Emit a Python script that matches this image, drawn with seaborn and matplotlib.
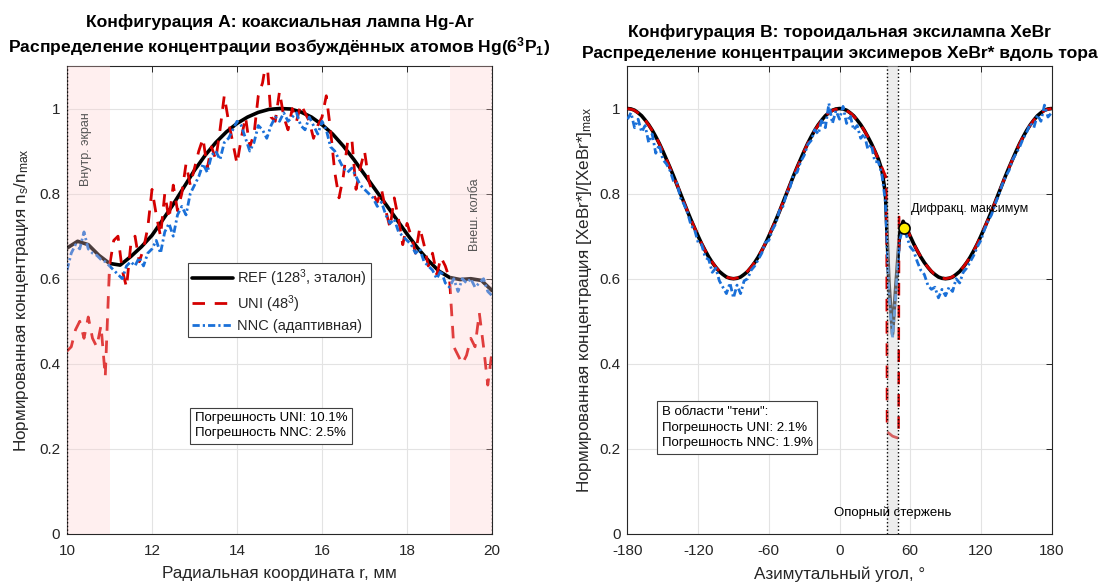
import numpy as np
import pandas as pd
import matplotlib
matplotlib.use("Agg")
import matplotlib.pyplot as plt
from matplotlib.ticker import FuncFormatter
import seaborn as sns

# ---------------- Configuration A: coaxial Hg-Ar lamp ----------------
r_ref = np.arange(10.0, 20.001, 0.25)
ref_a = [0.672, 0.688, 0.680, 0.655, 0.636, 0.632, 0.652, 0.675, 0.702, 0.738,
         0.775, 0.815, 0.855, 0.890, 0.920, 0.945, 0.965, 0.980, 0.991, 0.998,
         1.000, 0.999, 0.992, 0.980, 0.962, 0.940, 0.912, 0.880, 0.845, 0.810,
         0.775, 0.740, 0.705, 0.672, 0.643, 0.618, 0.603, 0.598, 0.600, 0.596,
         0.572]

r_grid = np.round(np.arange(10.0, 20.001, 0.1), 2)
uni_a = [0.43, 0.44, 0.48, 0.50, 0.46, 0.51, 0.46, 0.44, 0.49, 0.37,
         0.63, 0.69, 0.70, 0.62, 0.58, 0.68, 0.70, 0.64, 0.67, 0.72,
         0.81, 0.75, 0.70, 0.80, 0.74, 0.82, 0.76, 0.80, 0.87, 0.82,
         0.86, 0.90, 0.93, 0.86, 0.91, 0.88, 0.95, 1.03, 0.97, 0.92,
         0.87, 0.93, 0.98, 0.91, 0.94, 1.03, 1.06, 1.12, 0.98, 0.97,
         1.04, 0.98, 0.95, 1.00, 0.97, 1.01, 0.99, 0.97, 0.93, 0.96,
         0.98, 1.03, 0.95, 0.85, 0.79, 0.84, 0.92, 0.93, 0.81, 0.86,
         0.90, 0.83, 0.80, 0.78, 0.81, 0.76, 0.72, 0.79, 0.74, 0.68,
         0.73, 0.70, 0.66, 0.72, 0.68, 0.63, 0.66, 0.61, 0.65, 0.63,
         0.60, 0.44, 0.42, 0.40, 0.42, 0.46, 0.44, 0.52, 0.44, 0.35,
         0.43]
nnc_a = [0.62, 0.66, 0.68, 0.67, 0.71, 0.67, 0.66, 0.655, 0.645, 0.64,
         0.63, 0.62, 0.61, 0.60, 0.63, 0.64, 0.63, 0.65, 0.63, 0.66,
         0.67, 0.69, 0.66, 0.71, 0.73, 0.70, 0.75, 0.77, 0.75, 0.80,
         0.82, 0.84, 0.87, 0.85, 0.89, 0.90, 0.88, 0.92, 0.93, 0.95,
         0.97, 0.96, 0.93, 0.90, 0.92, 0.96, 0.95, 0.93, 0.96, 0.98,
         0.97, 0.99, 0.97, 0.98, 0.99, 0.96, 0.95, 0.98, 0.96, 0.94,
         0.97, 0.95, 0.91, 0.90, 0.88, 0.86, 0.85, 0.86, 0.84, 0.82,
         0.81, 0.80, 0.79, 0.77, 0.78, 0.75, 0.73, 0.74, 0.71, 0.70,
         0.69, 0.68, 0.66, 0.67, 0.64, 0.63, 0.62, 0.60, 0.62, 0.59,
         0.58, 0.60, 0.57, 0.60, 0.59, 0.60, 0.58, 0.59, 0.60, 0.57,
         0.56]

zones_a = [(10.0, 11.0), (19.0, 20.0)]
zone_labels_a = ["Внутр. экран", "Внеш. колба"]
zone_label_pos_a = [(10.45, 0.905), (19.6, 0.75)]
err_text_a = "Погрешность UNI: 10.1%\nПогрешность NNC: 2.5%"

# ---------------- Configuration B: toroidal XeBr excilamp ----------------
theta = np.arange(-180, 181, 3)
ref_b = [1.000, .999, .996, .990, .983, .973, .962, .949, .934, .918, .900,
         .881, .862, .842, .821, .800, .779, .758, .738, .719, .700, .682,
         .666, .651, .638, .627, .617, .610, .604, .601, .600,
         .601, .604, .610, .617, .627, .638, .651, .666, .682, .700, .719,
         .738, .758, .779, .800, .821, .842, .862, .881, .900, .918, .934,
         .949, .962, .973, .983, .990, .996, .999, 1.000,
         .999, .996, .990, .983, .973, .962, .949, .934, .918, .900, .881,
         .855, .800, .590, .470, .590, .705, .735, .719, .700, .682, .666,
         .651, .638, .627, .617, .610, .604, .601, .600,
         .601, .604, .610, .617, .627, .638, .651, .666, .682, .700, .719,
         .738, .758, .779, .800, .821, .842, .862, .881, .900, .918, .934,
         .949, .962, .973, .983, .990, .996, .999, 1.000]
nnc_b = [0.975, 0.99, 0.955, 0.975, 0.945, 0.96, 0.92, 0.94, 0.895, 0.915, 0.88,
         0.87, 0.855, 0.83, 0.825, 0.79, 0.775, 0.755, 0.725, 0.715, 0.685, 0.68,
         0.65, 0.645, 0.615, 0.625, 0.595, 0.58, 0.565, 0.59, 0.555,
         0.585, 0.565, 0.595, 0.60, 0.62, 0.63, 0.645, 0.66, 0.685, 0.69, 0.715,
         0.73, 0.76, 0.77, 0.80, 0.815, 0.845, 0.85, 0.875, 0.89, 0.915, 0.925,
         0.95, 0.94, 0.975, 0.955, 1.012, 0.965, 0.995, 0.975,
         1.005, 0.965, 0.985, 0.95, 0.96, 0.93, 0.94, 0.905, 0.915, 0.875, 0.875,
         0.845, 0.78, 0.56, 0.46, 0.57, 0.69, 0.72, 0.70, 0.675, 0.665, 0.64,
         0.62, 0.61, 0.585, 0.575, 0.58, 0.555, 0.575, 0.56,
         0.58, 0.57, 0.60, 0.59, 0.615, 0.625, 0.64, 0.655, 0.675, 0.69, 0.715,
         0.735, 0.75, 0.775, 0.795, 0.82, 0.84, 0.855, 0.88, 0.895, 0.91, 0.93,
         0.945, 0.965, 0.955, 0.985, 0.97, 1.008, 0.98, 0.99]

theta_uni = ([float(t) for t in range(-180, 36, 5)] + [40.0, 40.5, 45.0, 50.0, 50.5]
             + [float(t) for t in range(55, 181, 5)])
uni_b = [1.000, .997, .988, .973, .953, .929, .900, .868, .835, .800, .765,
         .732, .700, .671, .647, .627, .612, .603, .600,
         .603, .612, .627, .647, .671, .700, .732, .765, .800, .835, .868,
         .900, .929, .953, .973, .988, .997, 1.000,
         .997, .988, .973, .953, .929, .900, .868,
         .835, .240, .230, .225, .745,
         .732, .700, .671, .647, .627, .612, .603, .600,
         .603, .612, .627, .647, .671, .700, .732, .765, .800, .835, .868,
         .900, .929, .953, .973, .988, .997, 1.000]

shadow_b = (40.0, 50.0)
peak_b = (55.0, 0.72)
err_text_b = "В области \"тени\":\nПогрешность UNI: 2.1%\nПогрешность NNC: 1.9%"

# ---------------- style ----------------
sns.set_theme(style="whitegrid")
plt.rcParams["font.family"] = ["Liberation Sans", "DejaVu Sans"]
plt.rcParams["mathtext.fontset"] = "custom"
plt.rcParams["mathtext.rm"] = "Liberation Sans"
plt.rcParams["mathtext.it"] = "Liberation Sans:italic"
plt.rcParams["mathtext.bf"] = "Liberation Sans:bold"
plt.rcParams["mathtext.default"] = "regular"
plt.rcParams["axes.unicode_minus"] = False

C_REF = "black"
C_UNI = "#d40000"
C_NNC = "#1a70d8"
LS_UNI = (0, (4.5, 3.5))
LS_NNC = (0, (2.6, 1.1, 0.8, 1.1))
TXT = "#262626"

fig = plt.figure(figsize=(11.02, 5.85), dpi=100)
ax1 = fig.add_axes([0.0608, 0.0872, 0.3857, 0.80])
ax2 = fig.add_axes([0.5694, 0.0872, 0.3848, 0.80])


def draw_series(ax, x, y, color, lw, ls, label, z):
    sns.lineplot(x=list(x), y=list(y), ax=ax, color=color, lw=lw,
                 label=label, sort=False, estimator=None, zorder=z)
    line = ax.lines[-1]
    line.set_linestyle(ls)
    return line


def style_axes(ax):
    ax.set_facecolor("white")
    ax.grid(True, color="#e3e3e3", lw=0.8)
    ax.tick_params(direction="in", top=True, right=True, length=4,
                   width=0.7, color=TXT, labelcolor=TXT, labelsize=11)
    ax.tick_params(axis="x", pad=7)
    ax.tick_params(axis="y", pad=5)
    for s in ax.spines.values():
        s.set_color(TXT)
        s.set_linewidth(0.8)
    ax.yaxis.set_major_formatter(FuncFormatter(lambda v, p: f"{v:g}"))
    ax.set_ylim(0, 1.1)
    ax.set_yticks([0, 0.2, 0.4, 0.6, 0.8, 1.0])


# ---------- panel A ----------
draw_series(ax1, r_ref, ref_a, C_REF, 2.6, "-", "REF (128$^3$, эталон)", 3)
draw_series(ax1, r_grid, uni_a, C_UNI, 2.0, LS_UNI, "UNI (48$^3$)", 4)
draw_series(ax1, r_grid, nnc_a, C_NNC, 2.0, LS_NNC, "NNC (адаптивная)", 5)
for (a, b), lab, (tx, ty) in zip(zones_a, zone_labels_a, zone_label_pos_a):
    ax1.axvspan(a, b, color="#ffcccc", alpha=0.3, lw=0, zorder=6)
    ax1.text(tx, ty, lab, rotation=90, ha="center", va="center",
             fontsize=9, color="#555555", zorder=7)
for xv in (10.0, 20.0):
    ax1.axvline(xv, color="black", ls=":", lw=1.0, zorder=8)
style_axes(ax1)
ax1.set_xlim(10, 20)
ax1.set_xticks(np.arange(10, 21, 2))
ax1.set_xlabel("Радиальная координата r, мм", fontsize=12.3, color=TXT, labelpad=6)
ax1.set_ylabel("Нормированная концентрация n$_\\mathrm{s}$/n$_\\mathrm{max}$",
               fontsize=12.3, color=TXT, labelpad=6)
ax1.set_title("Конфигурация А: коаксиальная лампа Hg-Ar\n"
              "Распределение концентрации возбуждённых атомов Hg(6$^\\mathbf{3}$P$_\\mathbf{1}$)",
              fontsize=12.6, fontweight="bold", color="black", pad=10,
              linespacing=1.25)
leg = ax1.legend(loc="center", fontsize=10.5, frameon=True, fancybox=False,
                 framealpha=1, edgecolor="#404040", handlelength=2.8,
                 borderpad=0.3, labelspacing=0.3, handletextpad=0.3,
                 borderaxespad=0.3)
leg.get_frame().set_linewidth(0.8)
ax1.text(14.8, 0.254, err_text_a, ha="center", va="center", multialignment="left",
         fontsize=9.5, color="black", linespacing=1.35, zorder=9,
         bbox=dict(boxstyle="square,pad=0.35", fc="white", ec="#404040", lw=0.8))

# ---------- panel B ----------
draw_series(ax2, theta, ref_b, C_REF, 2.6, "-", "REF", 3)
draw_series(ax2, theta_uni, uni_b, C_UNI, 2.0, LS_UNI, "UNI", 4)
draw_series(ax2, theta, nnc_b, C_NNC, 2.0, LS_NNC, "NNC", 5)
ax2.get_legend().remove()
ax2.axvspan(*shadow_b, color="#d9d9d9", alpha=0.45, lw=0, zorder=6)
for xv in shadow_b:
    ax2.axvline(xv, color="black", ls=":", lw=1.0, zorder=8)
ax2.plot(*peak_b, marker="o", ms=8, mfc="#ffee00", mec="black", mew=1.2, zorder=10)
ax2.text(peak_b[0] + 5.5, 0.765, "Дифракц. максимум", ha="left", va="center",
         fontsize=9, color="black", zorder=10)
ax2.text(45, 0.05, "Опорный стержень", ha="center", va="center", fontsize=9.5,
         color="black", zorder=10)
style_axes(ax2)
ax2.set_xlim(-180, 180)
ax2.set_xticks(np.arange(-180, 181, 60))
ax2.set_xlabel("Азимутальный угол, °", fontsize=12.3, color=TXT, labelpad=6)
ax2.set_ylabel("Нормированная концентрация [XeBr*]/[XeBr*]$_\\mathrm{max}$",
               fontsize=12.3, color=TXT)
ax2.set_title("Конфигурация В: тороидальная эксилампа XeBr\n"
              "Распределение концентрации эксимеров XeBr* вдоль тора",
              fontsize=12.6, fontweight="bold", color="black", pad=6,
              linespacing=1.45)
ax2.text(-87, 0.25, err_text_b, ha="center", va="center", multialignment="left",
         fontsize=9.5, color="black", linespacing=1.4, zorder=9,
         bbox=dict(boxstyle="square,pad=0.35", fc="white", ec="#404040", lw=0.8))

fig.savefig("out.png", dpi=100)
